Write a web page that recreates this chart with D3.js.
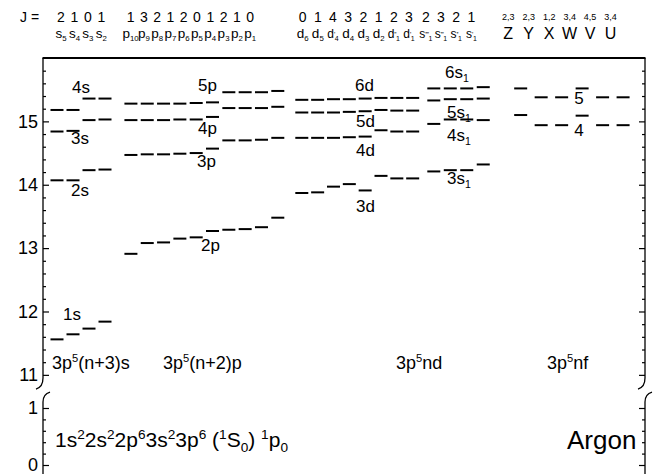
<!DOCTYPE html>
<html><head><meta charset="utf-8">
<script src="https://cdn.jsdelivr.net/npm/d3@7"></script>
<style>body{margin:0;background:#fff}svg{display:block;font-family:Arial,"Liberation Sans",sans-serif}</style>
</head><body><svg id="c" width="653" height="474"></svg>
<script>
// ---------- data ----------
const sLabels  = ["s5","s4","s3","s2"];
const sJ       = ["2","1","0","1"];
const pLabels  = ["p10","p9","p8","p7","p6","p5","p4","p3","p2","p1"];
const pJ       = ["1","3","2","1","2","0","1","2","1","0"];
const dLabels  = ["d6","d5","d'4","d4","d3","d2","d''1","d'1"];
const dJ       = ["0","1","4","3","2","1","2","3"];
const s1Labels = ["s''''1","s'''1","s''1","s'1"];
const s1J      = ["2","3","2","1"];
const fLabels  = ["Z","Y","X","W","V","U"];
const fJ       = ["2,3","2,3","1,2","3,4","4,5","3,4"];

// energies (eV) per group/row, one value per column
const s1s = [11.56, 11.64, 11.73, 11.84];
const s2s = [14.07, 14.07, 14.23, 14.24];
const s3s = [14.84, 14.85, 15.02, 15.03];
const s4s = [15.18, 15.18, 15.36, 15.36];
const p2p = [12.91, 13.08, 13.09, 13.15, 13.17, 13.27, 13.29, 13.30, 13.33, 13.48];
const p3p = [14.47, 14.48, 14.48, 14.49, 14.50, 14.57, 14.70, 14.70, 14.71, 14.74];
const p4p = [15.02, 15.02, 15.02, 15.03, 15.03, 15.07, 15.21, 15.21, 15.21, 15.23];
const p5p = [15.28, 15.28, 15.28, 15.28, 15.29, 15.30, 15.46, 15.46, 15.46, 15.48];
const d3d = [13.87, 13.88, 13.97, 14.01, 13.91, 14.14, 14.10, 14.10];
const d4d = [14.74, 14.74, 14.74, 14.75, 14.76, 14.86, 14.84, 14.84];
const d5d = [15.14, 15.14, 15.14, 15.15, 15.16, 15.18, 15.17, 15.17];
const d6d = [15.34, 15.34, 15.35, 15.35, 15.36, 15.37, 15.37, 15.37];
const s13 = [14.21, 14.23, 14.23, 14.32];
const s14 = [14.96, 15.03, 15.03, 15.02];
const s15 = [15.33, 15.35, 15.35, 15.36];
const s16 = [15.52, 15.52, 15.52, 15.54];
const f4  = [15.10, 14.94, 14.94, 15.09, 14.94, 14.94];
const f5  = [15.52, 15.38, 15.38, 15.52, 15.38, 15.38];

const majorTop = [11, 12, 13, 14, 15];
const majorBot = [0, 1];

// ---------- layout ----------
const svg = d3.select("#c");
const L = 43, R = 645, TOP = 58, BRK1 = 378, BRK2 = 402;
const yTop = d3.scaleLinear().domain([10.84, 16]).range([385, TOP]);
const yBot = d3.scaleLinear().domain([0, 1]).range([465, 408]);

// column x positions: a slot scale (pitch ~16px)
const xs = d3.scaleLinear().domain([0, 1]).range([57, 73]);
const groups = [
  {labels: sLabels,  J: sJ,  start: 0,     step: 1,    rows: [s1s, s2s, s3s, s4s]},
  {labels: pLabels,  J: pJ,  start: 4.62,  step: 1.02, rows: [p2p, p3p, p4p, p5p]},
  {labels: dLabels,  J: dJ,  start: 15.3,  step: 0.99, rows: [d3d, d4d, d5d, d6d]},
  {labels: s1Labels, J: s1J, start: 23.55, step: 1.03, rows: [s13, s14, s15, s16]},
  {labels: fLabels,  J: fJ,  start: 28.98, step: 1.28, rows: [f4, f5]}
];

// header x positions (slots, independent of level columns)
const hdr = [
  {start: 0.25, step: 0.84},
  {start: 4.6,  step: 0.83},
  {start: 15.35, step: 0.95},
  {start: 23.05, step: 0.95},
  {start: 28.2, step: 1.28}
];

// ---------- frame ----------
function ln(x1,y1,x2,y2,w){svg.append("line").attr("x1",x1).attr("y1",y1).attr("x2",x2).attr("y2",y2).attr("stroke","#000").attr("stroke-width",w||1.3);}
ln(L-0.5, TOP, R+0.5, TOP, 2);
ln(L, TOP, L, BRK1, 1.3);
ln(R, TOP, R, BRK1, 1.3);
ln(L, BRK2, L, 480, 1.3);
ln(R, BRK2, R, 480, 1.3);
// break marks
[L, R].forEach(x => {
  svg.append("path").attr("d", `M${x},${BRK1} Q${x},${BRK1+9} ${x-7},${BRK1+11}`).attr("fill","none").attr("stroke","#000").attr("stroke-width",1.3);
  svg.append("path").attr("d", `M${x},${BRK2} Q${x},${BRK2-8} ${x+7},${BRK2-10}`).attr("fill","none").attr("stroke","#000").attr("stroke-width",1.3);
});

// ---------- axes ----------
const minorTop = d3.range(55, 80).map(i => i / 5).filter(v => !majorTop.includes(v));
const minorBot = [0.2, 0.4, 0.6, 0.8];
function axes(scale, major, minor) {
  svg.append("g").attr("transform", `translate(${L},0)`)
    .call(d3.axisLeft(scale).tickValues(major).tickSizeInner(-6).tickSizeOuter(0).tickPadding(5).tickFormat(d3.format("d")));
  svg.append("g").attr("transform", `translate(${L},0)`)
    .call(d3.axisLeft(scale).tickValues(minor).tickSizeInner(-3).tickSizeOuter(0).tickFormat(""));
  svg.append("g").attr("transform", `translate(${R},0)`)
    .call(d3.axisRight(scale).tickValues(major).tickSizeInner(-6).tickSizeOuter(0).tickFormat(""));
  svg.append("g").attr("transform", `translate(${R},0)`)
    .call(d3.axisRight(scale).tickValues(minor).tickSizeInner(-3).tickSizeOuter(0).tickFormat(""));
}
axes(yTop, majorTop, minorTop);
axes(yBot, majorBot, minorBot);
svg.selectAll(".domain").remove();
svg.selectAll(".tick line").attr("stroke", "#000").attr("stroke-width", 1.2);
svg.selectAll(".tick text").attr("font-size", 18).attr("font-family", "Arial, 'Liberation Sans', sans-serif").attr("fill", "#000");

// ---------- levels ----------
const HALF = 6.5;
groups.forEach(g => {
  g.rows.forEach(row => {
    svg.append("g").selectAll("line").data(row).join("line")
      .attr("x1", (v, i) => xs(g.start + i * g.step) - HALF)
      .attr("x2", (v, i) => xs(g.start + i * g.step) + HALF)
      .attr("y1", v => yTop(v)).attr("y2", v => yTop(v))
      .attr("stroke", "#000").attr("stroke-width", 2);
  });
});

// ---------- rich text helper ----------
function rich(x, y, parts, size, anchor) {
  const t = svg.append("text").attr("x", x).attr("y", y).attr("font-size", size)
    .attr("text-anchor", anchor || "start").attr("fill", "#000");
  let shift = 0;
  parts.forEach(p => {
    const s = typeof p === "string" ? {t: p} : p;
    let target = 0;
    if (s.sup) target = -size * 0.4;
    if (s.sub) target = size * 0.25;
    if (s.prime) target = -size * 0.12;
    const ts = t.append("tspan").text(s.t).attr("dy", target - shift);
    if (s.sup || s.sub || s.prime) ts.attr("font-size", size * (s.scale || 0.62));
    if (s.ls) ts.attr("letter-spacing", s.ls);
    shift = target;
  });
  return t;
}

// ---------- header ----------
rich(20, 22, ["J ="], 14);
groups.forEach((g, gi) => {
  const h = hdr[gi];
  g.J.forEach((j, i) => {
    const x = xs(h.start + i * h.step);
    svg.append("text").attr("x", x).attr("y", gi === 4 ? 20 : 22)
      .attr("font-size", gi === 4 ? 9 : 14).attr("text-anchor", "middle").text(j);
  });
  g.labels.forEach((lab, i) => {
    const x = xs(h.start + i * h.step);
    if (gi === 4) {
      svg.append("text").attr("x", x).attr("y", 39).attr("font-size", 16).attr("text-anchor", "middle").text(lab);
    } else {
      const m = lab.match(/^([a-z])('*)(\d+)$/);
      const np = m[2].length;
      const parts = [m[1]];
      if (np) parts.push({t: m[2], prime: true, scale: 0.55, ls: -0.4});
      parts.push({t: m[3], sub: true, scale: 0.58});
      rich(x, 38, parts, np ? 12 : 13.5, "middle");
    }
  });
});

// ---------- level labels ----------
const LS = 17;
const lvlLabels = [
  [63, 320, ["1s"]], [71, 196, ["2s"]], [71, 144, ["3s"]], [72, 93, ["4s"]],
  [198, 91, ["5p"]], [198, 134, ["4p"]], [197, 167, ["3p"]], [201, 251, ["2p"]],
  [355, 91, ["6d"]], [356, 127, ["5d"]], [356, 156, ["4d"]], [356, 212, ["3d"]],
  [445, 78, ["6s", {t: "1", sub: true}]], [447, 118, ["5s", {t: "1", sub: true}]],
  [447, 141, ["4s", {t: "1", sub: true}]], [447, 184, ["3s", {t: "1", sub: true}]]
];
lvlLabels.forEach(d => rich(d[0], d[1], d[2], LS));
rich(579, 104, ["5"], LS, "middle");
rich(579, 136, ["4"], LS, "middle");

// group labels
const GS = 18;
rich(52, 369, ["3p", {t: "5", sup: true}, "(n+3)s"], GS);
rich(163, 369, ["3p", {t: "5", sup: true}, "(n+2)p"], GS);
rich(396, 369, ["3p", {t: "5", sup: true}, "nd"], GS);
rich(547, 369, ["3p", {t: "5", sup: true}, "nf"], GS);

// ground state
const sp = {sup: true, scale: 0.65};
rich(55, 447, ["1s", {t:"2",...sp}, "2s", {t:"2",...sp}, "2p", {t:"6",...sp}, "3s", {t:"2",...sp},
  "3p", {t:"6",...sp}, " (", {t:"1",...sp}, "S", {t:"0",sub:true,scale:0.65}, ") ", {t:"1",...sp}, "p", {t:"0",sub:true,scale:0.65}], 21);
rich(567, 449, ["Argon"], 26);
</script></body></html>
